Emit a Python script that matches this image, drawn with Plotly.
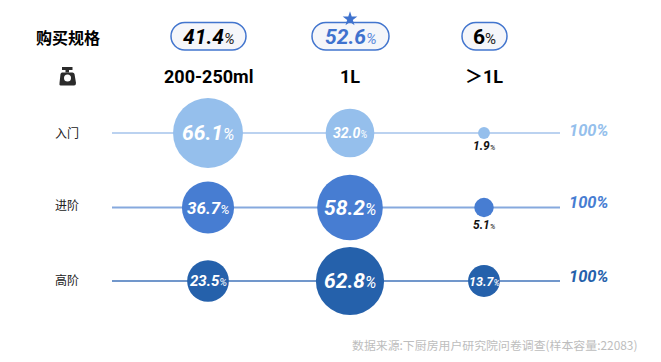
import plotly.graph_objects as go

# ---- data ----
sizes = ["200-250ml", "1L", "＞1L"]
levels = ["入门", "进阶", "高阶"]
overall = [41.4, 52.6, 6]
entry = [66.1, 32.0, 1.9]
middle = [36.7, 58.2, 5.1]
high = [23.5, 62.8, 13.7]
totals = ["100%", "100%", "100%"]
source = "数据来源:下厨房用户研究院问卷调查(样本容量:22083)"
header = "购买规格"

# ---- layout constants ----
W, H = 661, 362
col_x = [208, 350, 484]
row_y = [133, 207.5, 281]
level_label_y = [132, 204.5, 279.5]
total_label_y = [130, 202.5, 276]
colors = ["#95BFEC", "#477DD2", "#2561AB"]
line_colors = ["#BBD2F0", "#86A9DE", "#7197CB"]
NUM = "Roboto, 'Noto Sans CJK SC', sans-serif"
CJK = "'Noto Sans CJK SC', sans-serif"
SIZEREF = 1 / 37.0


def fmt(v, big, small):
    return f'<span style="font-size:{big}px">{v:.1f}</span><span style="font-size:{small}px;font-weight:400">%</span>'


def label_size(v):
    if v > 50:
        return 21, 16
    if v > 30 and v < 35:
        return 14, 10
    if v > 30:
        return 17, 13
    if v > 20:
        return 15, 11
    return 12.5, 9


fig = go.Figure()
shapes, ann = [], []

for i, (lvl, vals) in enumerate(zip(levels, [entry, middle, high])):
    y = row_y[i]
    fig.add_trace(go.Scatter(x=[112, 560], y=[y, y], mode="lines",
                             line=dict(color=line_colors[i], width=2), hoverinfo="skip", showlegend=False))
    fig.add_trace(go.Scatter(x=col_x, y=[y] * 3, mode="markers",
                             marker=dict(size=vals, sizemode="area", sizeref=SIZEREF, color=colors[i],
                                         line=dict(width=0), opacity=1),
                             name=lvl, showlegend=False))
    for j, v in enumerate(vals):
        big, small = label_size(v)
        if v < 10:
            ann.append(dict(x=col_x[j], y=y + (13 if i == 0 else 17), text=fmt(v, 12, 8),
                            font=dict(family=NUM, color="#111", weight=700, style="italic")))
        else:
            ann.append(dict(x=col_x[j], y=y, text=fmt(v, big, small),
                            font=dict(family=NUM, color="#FFFFFF", weight=700, style="italic")))
    ann.append(dict(x=67, y=level_label_y[i], text=lvl, font=dict(family=CJK, size=12, color="#222")))
    ann.append(dict(x=588, y=total_label_y[i], text=totals[i],
                    font=dict(family=NUM, size=16.5, color=colors[i], weight=700, style="italic")))

# header pills
pill_w = [75, 77, 45]
PY0, PY1 = 22.5, 50
KAPPA = 0.5523
for j, v in enumerate(overall):
    cx = [208.5, 350.5, 484.5][j]
    w = pill_w[j]
    r = (PY1 - PY0) / 2
    k = r * KAPPA
    ym = (PY0 + PY1) / 2
    x0, x1 = cx - w / 2, cx + w / 2
    path = (f"M{x0+r},{PY0} L{x1-r},{PY0} "
            f"C{x1-r+k},{PY0} {x1},{ym-k} {x1},{ym} C{x1},{ym+k} {x1-r+k},{PY1} {x1-r},{PY1} "
            f"L{x0+r},{PY1} "
            f"C{x0+r-k},{PY1} {x0},{ym+k} {x0},{ym} C{x0},{ym-k} {x0+r-k},{PY0} {x0+r},{PY0} Z")
    shapes.append(dict(type="path", path=path, xref="x", yref="y", fillcolor="#F5F6FA",
                       line=dict(color="#4275CE", width=1.5), layer="below"))
    top = overall.index(max(overall))
    num = f"{v:g}"
    c = "#3F72CE" if j == top else "#000000"
    pc = "#5C8BDC" if j == top else "#222222"
    ann.append(dict(x=cx, y=36.5,
                    text=f'<span style="font-size:21px">{num}</span><span style="font-size:15px;font-weight:400;color:{pc}">%</span>',
                    font=dict(family=NUM, color=c, weight=700, style="italic" if j < 2 else "normal")))
    ann.append(dict(x=cx - 0.5, y=76, text=sizes[j],
                    font=dict(family=NUM, size=18, color="#000", weight=700)))

# star over the largest share
fig.add_trace(go.Scatter(x=[col_x[overall.index(max(overall))]], y=[19], mode="markers",
                         marker=dict(symbol="star", size=11, color="#3F72CE", line=dict(width=0)),
                         hoverinfo="skip", showlegend=False))

ann.append(dict(x=68, y=37, text=header, font=dict(family=CJK, size=16, color="#000", weight=700)))
ann.append(dict(x=638.5, y=344, xanchor="right", text=source, font=dict(family=CJK, size=11.9, color="#BDBDBD")))

# scale icon
ic = "#2B2B2B"
shapes += [
    dict(type="path", path="M62,67 L72.5,67 L72.5,70 L69,70 L69,72.5 L65.5,72.5 L65.5,70 L62,70 Z",
         fillcolor=ic, line=dict(width=0)),
    dict(type="path",
         path="M62,72.5 L72.5,72.5 Q74,72.5 74.5,74 L76,83 Q76,85.5 74,85.5 L60.5,85.5 Q59,85.5 59.5,83 L60.5,74 Q61,72.5 62,72.5 Z",
         fillcolor=ic, line=dict(width=0)),
    dict(type="circle", x0=64, x1=71, y0=74.5, y1=81.5, fillcolor="#FFFFFF", line=dict(width=0)),
]

for a in ann:
    a.update(xref="x", yref="y", showarrow=False)
    a.setdefault("xanchor", "center")
    a.setdefault("yanchor", "middle")

fig.update_layout(
    width=W, height=H, margin=dict(l=0, r=0, t=0, b=0), autosize=False,
    paper_bgcolor="#FFFFFF", plot_bgcolor="#FFFFFF", showlegend=False,
    xaxis=dict(range=[0, W], visible=False, fixedrange=True),
    yaxis=dict(range=[H, 0], visible=False, fixedrange=True),
    shapes=shapes, annotations=ann,
)
fig.write_html("out.html", config={"displayModeBar": False},
               post_script="document.body.style.margin='0';document.documentElement.style.overflow='hidden';")
